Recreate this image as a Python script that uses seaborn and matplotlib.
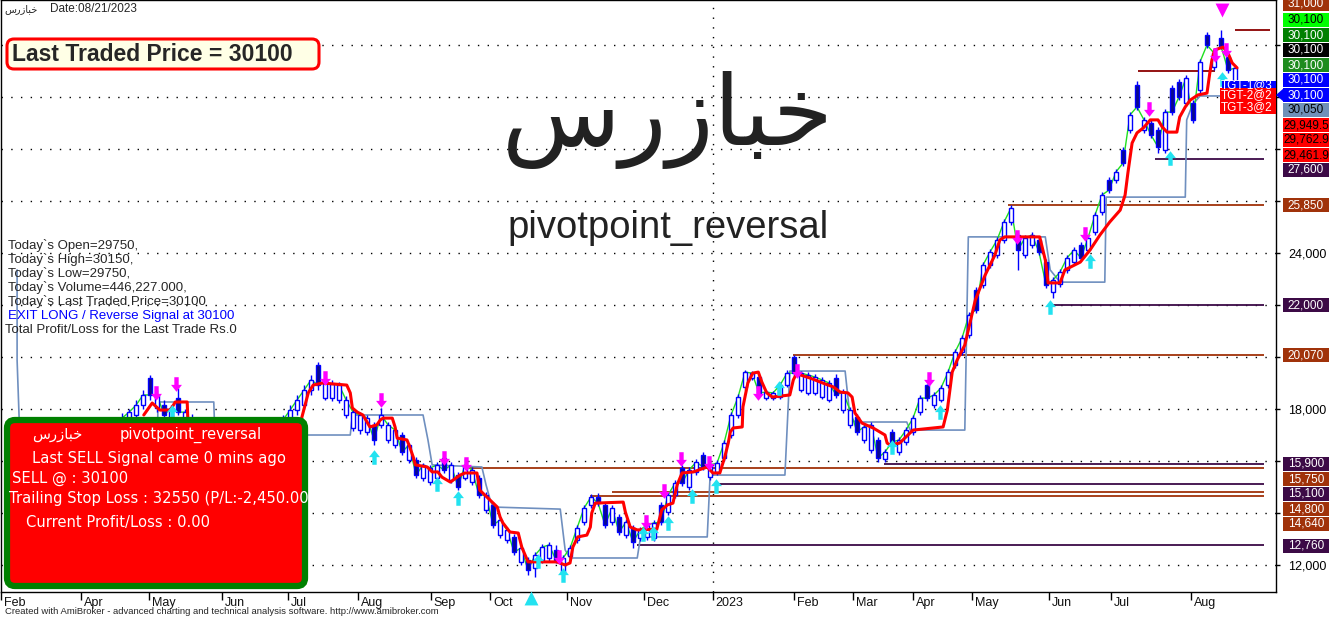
import numpy as np
import matplotlib
matplotlib.use("Agg")
import matplotlib.pyplot as plt
import seaborn as sns
from matplotlib.patches import Rectangle, FancyBboxPatch, Polygon
from matplotlib.path import Path
from matplotlib.transforms import Affine2D, blended_transform_factory

# ---------------- data (one candle per bar index) ----------------
opens = [17000, 17270, 17580, 17770, 18150, 19190, 18040, 18150, 17650, 18420,
         17580, 17650, 17390, 17190, 17000, 16810, 16420, 16230, 16040, 15730,
         15850, 16040, 16420, 16810, 17190, 17650, 17960, 18150, 18730, 19690,
         18420, 18420, 18350, 17770, 17270, 17190, 17120, 17390, 17390, 16810,
         16620, 17000, 16040, 16040, 15350, 15190, 15350, 16120, 15270, 15460,
         15350, 15190, 15350, 14120, 14310, 13150, 12960, 13080, 12120, 12190,
         11880, 12190, 12270, 12580, 11730, 12350, 12960, 13650, 14310, 14620,
         14310, 13650, 13850, 13150, 13420, 13040, 13080, 13040, 14310, 14040,
         14690, 15730, 15000, 15580, 16230, 15380, 15580, 16120, 17000, 17770,
         18850, 19190, 19230, 18420, 18420, 18460, 18920, 20000, 18730, 18620,
         18620, 18460, 18350, 19190, 17960, 17390, 17690, 16810, 16420, 16810,
         16080, 17120, 16350, 16730, 17120, 17880, 18920, 18150, 18350, 18920,
         19690, 20190, 20850, 22580, 22770, 23540, 23920, 24500, 25190, 24690,
         23920, 24310, 24500, 23650, 22500, 22810, 23350, 23650, 24310, 24120,
         24810, 25580, 26810, 26810, 27960, 28730, 30460, 28730, 29000, 28730,
         27960, 30350, 30580, 29770, 29770, 30270, 32380, 31150, 32270, 31540,
         30580]
highs = [17580, 17850, 18000, 18350, 18730, 19310, 18730, 18350, 18150, 18810,
         18000, 17800, 17500, 17300, 17100, 16900, 16500, 16350, 16150, 16230,
         16420, 16620, 17000, 17390, 17770, 18150, 18540, 18920, 19310, 19810,
         19190, 19120, 19040, 18500, 18000, 17880, 17770, 17500, 18040, 17500,
         17300, 17100, 16700, 16150, 15920, 15850, 15960, 16350, 15960, 15580,
         16120, 15770, 15460, 14810, 14420, 13850, 13460, 13190, 12770, 12310,
         12500, 12810, 12880, 12770, 12380, 12770, 13540, 14310, 14730, 14770,
         14420, 14310, 13960, 13770, 13540, 13460, 13650, 13730, 14420, 14810,
         15270, 15850, 15770, 16080, 16350, 15960, 16040, 16810, 17880, 18580,
         19500, 19460, 19310, 18730, 18690, 19040, 19500, 20080, 19460, 19420,
         19350, 19230, 19120, 19350, 18770, 18080, 17810, 17420, 17500, 16920,
         16460, 17230, 16920, 17310, 17770, 18540, 18960, 18650, 18920, 19540,
         20310, 20850, 21730, 22690, 23650, 24150, 24620, 25310, 25850, 24810,
         24690, 24810, 24620, 23770, 23080, 23380, 23920, 24230, 24420, 24690,
         25580, 26350, 26920, 27230, 28080, 29420, 30620, 29230, 29120, 28850,
         29540, 30460, 30690, 30850, 29880, 31460, 32500, 31810, 32580, 31650,
         31230]
lows = [16810, 17100, 17420, 17650, 18000, 18350, 17880, 17580, 17500, 17770,
        17420, 17100, 16810, 16620, 16420, 16230, 15850, 15650, 15460, 15580,
        15650, 15850, 16230, 16620, 17000, 17500, 17770, 18000, 18540, 18730,
        18350, 18310, 18230, 17650, 17150, 17040, 17000, 16620, 17270, 16700,
        16500, 16230, 15920, 15350, 15230, 15080, 15150, 15540, 15150, 14880,
        15270, 15080, 14580, 14000, 13420, 13040, 12850, 12380, 12000, 11620,
        11540, 12080, 12150, 12080, 11420, 12270, 12850, 13540, 14190, 14270,
        13420, 13540, 13150, 13040, 12650, 12920, 12960, 12920, 13540, 13920,
        14580, 15040, 14880, 15460, 15650, 15270, 15460, 16000, 16880, 17650,
        18730, 19120, 18540, 18350, 18350, 18380, 18850, 19270, 18650, 18540,
        18540, 18380, 18270, 18420, 17850, 17270, 17000, 16690, 16310, 15960,
        15960, 16620, 16230, 16620, 17000, 17770, 18310, 18040, 18270, 18810,
        19580, 20080, 20730, 21690, 22650, 23420, 23810, 24380, 25080, 23350,
        23810, 24190, 23920, 22650, 22270, 22690, 23230, 23540, 23690, 24000,
        24690, 25460, 26310, 26690, 27350, 28620, 29500, 28620, 28420, 27850,
        27850, 29310, 29880, 29650, 29000, 30150, 31880, 31040, 31850, 30920,
        30460]
closes = [17390, 17650, 17880, 18150, 18540, 18540, 18540, 17770, 18040, 17880,
          17880, 17270, 17000, 16810, 16620, 16420, 16040, 15850, 15650, 16120,
          16230, 16420, 16810, 17190, 17580, 17960, 18350, 18730, 19120, 18920,
          19040, 18960, 18920, 18350, 17880, 17770, 17650, 16810, 17770, 17390,
          17190, 16350, 16620, 15460, 15850, 15730, 15850, 15650, 15850, 15000,
          15850, 15650, 14690, 14690, 13540, 13730, 13350, 12500, 12650, 11810,
          12380, 12690, 12770, 12190, 12270, 12650, 13420, 14190, 14620, 14380,
          13540, 14190, 13270, 13650, 12880, 13350, 13540, 13620, 13650, 14690,
          15150, 15150, 15650, 15960, 15770, 15850, 15920, 16690, 17770, 18460,
          19420, 19380, 18620, 18650, 18620, 18920, 19380, 19380, 19380, 19310,
          19230, 19120, 19000, 18540, 18650, 17960, 17120, 17310, 17390, 16120,
          16350, 16730, 16810, 17190, 17650, 18420, 18420, 18540, 18810, 19420,
          20190, 20730, 21620, 21810, 23540, 24040, 24500, 25190, 25730, 24120,
          24580, 24690, 24040, 22770, 22960, 23270, 23810, 24120, 23810, 24580,
          25460, 26230, 26420, 27120, 27460, 29310, 29620, 29120, 28540, 28080,
          29420, 29420, 30000, 30730, 29120, 31350, 32000, 31690, 31960, 31040,
          31110]

# trailing stop line (red) vertices: bar position, price
red_bar = [4.1, 5.3, 6.4, 7.9, 8.6, 10.3, 10.4, 12.1, 16.4, 20.7,
           25.0, 26.4, 27.6, 28.3, 29.6, 33.1, 33.6, 33.9, 34.6, 35.4,
           36.0, 36.4, 37.4, 37.9, 38.3, 39.6, 40.0, 40.3, 41.7, 42.1,
           42.6, 42.9, 44.6, 45.3, 46.1, 46.7, 47.4, 47.9, 49.3, 50.0,
           51.7, 52.1, 53.1, 54.6, 55.0, 55.4, 56.4, 57.6, 58.1, 59.0,
           63.1, 64.3, 65.0, 65.4, 66.1, 67.4, 67.9, 68.1, 68.6, 72.6,
           72.9, 73.6, 74.6, 77.4, 78.1, 78.9, 79.7, 80.3, 81.0, 82.6,
           84.6, 85.4, 86.4, 87.1, 87.6, 87.9, 88.3, 89.6, 89.7, 90.4,
           91.1, 91.9, 92.4, 93.1, 93.9, 96.4, 96.9, 97.4, 97.9, 99.3,
           101.1, 102.6, 103.6, 104.7, 105.3, 105.7, 106.7, 108.3, 110.0, 110.3,
           110.7, 112.1, 114.0, 118.3, 118.9, 119.6, 120.3, 121.4, 122.9, 124.3,
           125.7, 126.4, 127.1, 132.1, 132.9, 133.3, 135.0, 135.7, 137.9, 139.3,
           140.7, 142.1, 143.6, 144.3, 144.7, 145.3, 146.0, 146.9, 147.9, 149.0,
           149.6, 150.3, 151.7, 152.1, 152.9, 153.6, 154.7, 156.0, 156.4, 156.7,
           157.1, 158.3, 159.0, 159.6, 160.3]
red_val = [17770, 18230, 17960, 17960, 18270, 18270, 17580, 16810, 16230, 16040,
           16810, 17390, 18620, 18920, 19000, 18920, 18620, 18040, 17880, 17770,
           17500, 17310, 17390, 17580, 17650, 17650, 17310, 16880, 16810, 16540,
           16150, 15850, 15770, 15580, 15580, 15380, 15270, 15190, 15460, 15540,
           15540, 14880, 14620, 14230, 13850, 13620, 13270, 13230, 12690, 12120,
           12120, 12000, 12080, 12690, 13080, 13150, 13460, 14000, 14380, 14420,
           14040, 13460, 13350, 13380, 14120, 14310, 14380, 15080, 15540, 15580,
           15770, 15540, 15540, 16150, 16690, 17120, 17270, 17310, 18080, 19000,
           19380, 19420, 19040, 18620, 18460, 18540, 19120, 19380, 19310, 19190,
           19000, 18850, 18650, 18620, 18460, 17850, 17460, 17270, 17000, 16690,
           16620, 16690, 17190, 17310, 17960, 19420, 19880, 20460, 22190, 23150,
           23920, 24500, 24620, 24620, 23730, 22850, 22850, 23350, 23650, 24120,
           24690, 25190, 25650, 26230, 27080, 28230, 28620, 28810, 29120, 29120,
           28850, 28650, 28650, 29230, 29620, 29880, 30080, 30150, 30920, 31420,
           31810, 31920, 31690, 31310, 31120]

# pivot step line (steel blue) vertices
steel_bar = [-14.0, -14.0, -13.7, -13.7, 6.1, 6.1, 14.1, 14.3, 26.0, 26.0,
             33.6, 33.9, 44.0, 44.7, 45.3, 52.4, 53.0, 53.6, 54.0, 63.6,
             64.3, 65.0, 74.6, 75.0, 75.4, 84.6, 85.0, 85.4, 95.7, 96.4,
             104.3, 105.0, 105.7, 113.1, 113.6, 121.4, 121.9, 132.9, 133.6, 135.0,
             141.4, 141.6, 152.9, 153.1, 153.9, 155.0, 165.9]
steel_val = [23350, 19880, 17580, 15650, 15650, 18270, 18270, 16620, 16620, 17000,
             17000, 17770, 17770, 16810, 15850, 15770, 15080, 14500, 14230, 14150,
             12580, 12270, 12270, 12960, 13080, 13080, 15380, 15460, 15460, 19460,
             19460, 17690, 17500, 17500, 17190, 17190, 24620, 24620, 23350, 22880,
             22880, 26150, 26150, 29120, 29690, 30040, 30040]

# support / resistance levels
level_val = [32580, 31000, 27600, 25850, 22000, 20070, 15900, 15750, 15100, 14800, 14640, 12760]
level_from = [160.0, 146.1, 148.6, 127.6, 133.6, 96.9, 109.9, 50.3, 85.7, 71.0, 67.9, 74.6]
level_to = [165.0, 157.1, 164.1, 164.1, 164.1, 164.1, 164.1, 164.1, 164.1, 164.1, 164.1, 164.1]
level_kind = ["d", "d", "p", "b", "p", "b", "p", "b", "p", "b", "b", "p"]

# signals
sell_bar = [5.9, 8.7, 30.0, 38.0, 47.0, 50.1, 63.4, 75.9, 78.4, 80.9, 84.9, 91.9,
            97.4, 116.3, 128.9, 138.6, 147.7, 157.1, 158.7]
sell_val = [18620, 18960, 19210, 18350, 16100, 15900, 12290, 13670, 14830, 16080, 15940, 18600,
            19460, 19170, 24630, 24730, 29540, 31620, 31810]
buy_bar = [8.1, 37.0, 46.0, 49.0, 60.4, 64.0, 75.4, 76.9, 79.0, 82.4, 85.9, 94.9,
           111.0, 117.9, 133.6, 139.3, 150.7, 158.1]
buy_val = [17900, 16170, 15120, 14560, 12150, 11620, 13210, 13250, 13630, 14650, 15020, 18790,
           16520, 17900, 21920, 23690, 27670, 30690]

month_labels = ["Feb", "Apr", "May", "Jun", "Jul", "Aug", "Sep", "Oct", "Nov", "Dec",
                "2023", "Feb", "Mar", "Apr", "May", "Jun", "Jul", "Aug"]
month_pos = [-16.3, -4.9, 4.9, 15.3, 24.7, 34.7, 45.1, 53.6, 64.6, 75.6,
             85.4, 97.0, 105.4, 114.0, 122.4, 133.4, 142.3, 153.7]
ytick_vals = list(range(12000, 34000, 2000))
ytick_shown = [12000, 18000, 24000]

tag_texts = ["31,000", "30,100", "30,100", "30,100", "30,100", "30,100", "30,100", "30,050",
             "29,949.5", "29,762.9", "29,461.9", "27,600", "25,850", "22,000", "20,070",
             "15,900", "15,750", "15,100", "14,800", "14,640", "12,760"]
tag_bg = ["#A0320A", "#00FF00", "#008000", "#000000", "#1E8C1E", "#0000FF", "#0000FF", "#7090B8",
          "#FF0000", "#FF0000", "#FF0000", "#3C0A46", "#A0320A", "#3C0A46", "#A0320A",
          "#3C0A46", "#A0320A", "#3C0A46", "#A0320A", "#A0320A", "#3C0A46"]
tag_fg = ["white", "black", "white", "white", "white", "white", "white", "black",
          "black", "black", "black", "white", "white", "white", "white",
          "white", "white", "white", "white", "white", "white"]
tag_ypix = [4, 20, 35, 50, 65, 80, 95, 110, 125, 140, 155, 170, 205, 305, 355,
            464, 479, 494, 509, 524, 546]

info_lines = ["Today`s Open=29750,", "Today`s High=30150,", "Today`s Low=29750,",
              "Today`s Volume=446,227.000,", "Today`s Last Traded Price=30100"]

# Arabic name in shaped presentation forms (visual order)
name_ar = "\uFEB1\uFEAD\uFEAF\uFE8E\uFE92\uFEA7"

# ---------------- figure ----------------
sns.set_theme(style="white")
plt.rcParams["font.family"] = ["Liberation Sans", "DejaVu Sans"]

W, H = 1336, 619
fig = plt.figure(figsize=(W / 100, H / 100), dpi=100)
fig.patch.set_facecolor("white")
pix = Affine2D().scale(1.0 / W, -1.0 / H).translate(0, 1) + fig.transFigure

ax = fig.add_axes([1 / W, 27 / H, 1275 / W, 592 / H])
ax.set_facecolor("white")
for s in ax.spines.values():
    s.set_color("black")
    s.set_linewidth(1)
ax.set_xlim(-16.29, 165.86)
ax.set_ylim(10962, 33731)

# dotted grid
for v in ytick_vals:
    ax.axhline(v, color="black", lw=1, ls=(0, (1, 6)), zorder=0.5)
ax.axvline(85.4, color="black", lw=1, ls=(0, (1, 6)), zorder=0.5)

# levels
kind_col = {"d": "#8B0000", "b": "#A0320A", "p": "#3C0A46"}
ax.hlines(level_val, level_from, level_to, colors=[kind_col[k] for k in level_kind], lw=1.3, zorder=1)

# steel step line
sns.lineplot(x=steel_bar, y=steel_val, ax=ax, sort=False, estimator=None,
             color="#6F8FBF", lw=1.2, zorder=2)

# green close line
xb = np.arange(len(closes))
sns.lineplot(x=xb, y=closes, ax=ax, sort=False, estimator=None, color="#1FE01F", lw=1, zorder=3)

# candles
o = np.array(opens); c = np.array(closes); h = np.array(highs); l = np.array(lows)
up = c >= o
ax.vlines(xb, l, h, color="#0000FF", lw=1, zorder=4)
ax.bar(xb, np.maximum(np.abs(c - o), 40), bottom=np.minimum(o, c), width=0.62,
       color=np.where(up, "white", "#0B0B8A"), edgecolor="#0000FF", linewidth=1, zorder=5)

# red trailing line
sns.lineplot(x=red_bar, y=red_val, ax=ax, sort=False, estimator=None, color="#FF0000", lw=2.2, zorder=6)

# arrows
verts_up = [(-0.3, -1), (0.3, -1), (0.3, 0.05), (0.75, 0.05), (0, 1), (-0.75, 0.05), (-0.3, 0.05), (-0.3, -1)]
codes = [Path.MOVETO] + [Path.LINETO] * 6 + [Path.CLOSEPOLY]
up_path = Path(verts_up, codes)
down_path = Path([(vx, -vy) for vx, vy in verts_up], codes)
ax.scatter(sell_bar, sell_val, marker=down_path, s=110, color="#FF00FF", linewidths=0, zorder=7)
ax.scatter(buy_bar, buy_val, marker=up_path, s=110, color="#22E2F0", linewidths=0, zorder=7)
ax.scatter([158.1], [33350], marker="v", s=100, color="#FF00FF", linewidths=0, clip_on=False, zorder=8)
ax.scatter([59.4], [10730], marker="^", s=100, color="#22E2F0", linewidths=0, clip_on=False, zorder=8)

# axes ticks
ax.yaxis.tick_right()
ax.set_yticks(ytick_vals)
ax.set_yticklabels([f"{v:,}" if v in ytick_shown else "" for v in ytick_vals])
ax.tick_params(axis="y", direction="out", length=3, width=1, pad=6, labelsize=9,
               colors="black", right=True, left=False)
ax.set_xticks(month_pos)
ax.set_xticklabels([])
ax.tick_params(axis="x", direction="out", length=6, width=1, bottom=True, colors="black")
trans = blended_transform_factory(ax.transData, ax.transAxes)
for p, lab in zip(month_pos, month_labels):
    ax.text(p + 0.4, -0.008, lab, transform=trans, ha="left", va="top", fontsize=9,
            color="#111111", clip_on=False)
ax.set_xlabel("")
ax.set_ylabel("")

# ---------------- overlays (pixel coordinates) ----------------
def ftext(x, y, s, **kw):
    return fig.text(x, y, s, transform=pix, **kw)

ftext(4, 9, name_ar, fontsize=7, va="center", family=["DejaVu Sans"])
ftext(50, 9, "Date:08/21/2023", fontsize=8.5, va="center")

ftext(668, 120, name_ar, fontsize=70, ha="center", va="center", color="#222222", family=["DejaVu Sans"])
ftext(668, 228, "pivotpoint_reversal", fontsize=27.5, ha="center", va="center", color="#222222")

ltp = FancyBboxPatch((7, 39), 312, 30, boxstyle="round,pad=0,rounding_size=7", transform=pix,
                     fc="#FFFFE6", ec="#FF0000", lw=2.2, zorder=5)
fig.add_artist(ltp)
ftext(12, 54.5, "Last Traded Price = 30100", fontsize=16.5, fontweight="bold", va="center", zorder=6)

for i, line in enumerate(info_lines):
    ftext(8, 246 + 14 * i, line, fontsize=9.5, va="center")
ftext(8, 316, "EXIT LONG / Reverse Signal at 30100", fontsize=9.5, va="center", color="#0000FF")
ftext(5, 330, "Total Profit/Loss for the Last Trade Rs.0", fontsize=9.5, va="center")

box = FancyBboxPatch((7, 420), 298, 166, boxstyle="round,pad=0,rounding_size=8", transform=pix,
                     fc="#FF0000", ec="#008000", lw=4.5, zorder=5)
fig.add_artist(box)
bt = dict(color="white", fontsize=10.6, va="center", family=["DejaVu Sans"], zorder=6)
ftext(32, 435, name_ar, **bt)
ftext(120, 435, "pivotpoint_reversal", **bt)
ftext(32, 458, "Last SELL Signal came 0 mins ago", **bt)
ftext(12, 478, "SELL @ : 30100", **bt)
tsl = ftext(9, 498, "Trailing Stop Loss : 32550 (P/L:-2,450.00", **bt)
tsl.set_clip_path(box)
ftext(26, 522, "Current Profit/Loss : 0.00", **bt)

ftext(5, 612, "Created with AmiBroker - advanced charting and technical analysis software. http://www.amibroker.com",
      fontsize=6.8, va="center")

# target boxes near the last bar (only their visible start shows)
fig.add_artist(Rectangle((1222, 81), 54, 8, transform=pix, fc="#0000FF", ec="none", zorder=5))
fig.add_artist(Rectangle((1220, 88), 56, 26, transform=pix, fc="#FF0000", ec="none", zorder=5))
for yy, tt in [(85, "TGT-1@3"), (95, "TGT-2@2"), (107, "TGT-3@2")]:
    t = ftext(1221, yy, tt, fontsize=8.5, color="white", va="center", zorder=6)
    t.set_clip_box(ax.bbox)

# right-hand price tags
for yy, tt, bg, fg in zip(tag_ypix, tag_texts, tag_bg, tag_fg):
    fig.add_artist(Rectangle((1283, yy - 7), 46, 14, transform=pix, fc=bg, ec="none", zorder=5))
    ftext(1306, yy, tt, fontsize=8.5, color=fg, ha="center", va="center", zorder=6)
fig.add_artist(Polygon([(1276, 95), (1284, 88), (1284, 102)], closed=True, transform=pix,
                       fc="#0000FF", ec="none", zorder=6))

fig.savefig("out.png", dpi=100, facecolor="white")
